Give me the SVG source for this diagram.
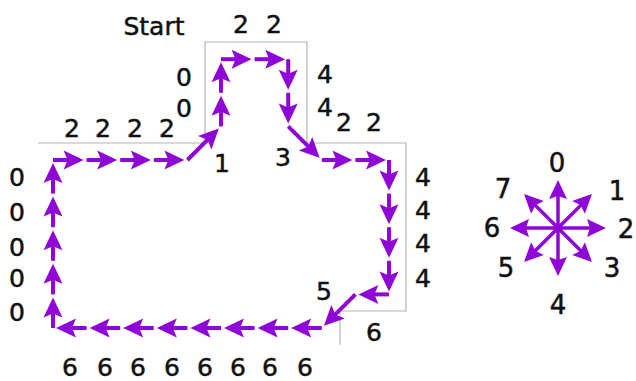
<svg xmlns="http://www.w3.org/2000/svg" width="636" height="381" viewBox="0 0 636 381">
<style>
.outline{fill:none;stroke:#b4b4b4;stroke-width:1.2}
.seg{stroke:#8e05d6;stroke-width:4;fill:none;marker-end:url(#ah)}
.cmp{stroke:#8e05d6;stroke-width:3.5;fill:none;marker-end:url(#ah2)}
text{font-family:"DejaVu Sans","Liberation Sans",sans-serif;font-size:25px;fill:#111;stroke:#111;stroke-width:0.5;text-anchor:middle}
.big{font-size:26px}
</style>
<defs>
<marker id="ah" markerUnits="userSpaceOnUse" markerWidth="22" markerHeight="20" refX="12" refY="9.5" orient="auto" overflow="visible">
<path d="M0,0 L20,9.5 L0,19 L4,9.5 Z" fill="#8e05d6"/>
</marker>
<marker id="ah2" markerUnits="userSpaceOnUse" markerWidth="22" markerHeight="20" refX="11" refY="9" orient="auto" overflow="visible">
<path d="M0,0 L19,9 L0,18 L3,9 Z" fill="#8e05d6"/>
</marker>
</defs>
<rect width="636" height="381" fill="#fff"/>
<g id="outline">
<polyline class="outline" points="38,143 205,143 205,42 307,42 307,143 406,143 406,311 340,311 340,345"/>
</g>
<g id="connectors">
<line class="seg" x1="53" y1="328" x2="53" y2="305.4"/>
<line class="seg" x1="53" y1="294.4" x2="53" y2="271.8"/>
<line class="seg" x1="53" y1="260.8" x2="53" y2="238.2"/>
<line class="seg" x1="53" y1="227.2" x2="53" y2="204.6"/>
<line class="seg" x1="53" y1="193.6" x2="53" y2="171"/>
<line class="seg" x1="53" y1="160" x2="75.6" y2="160"/>
<line class="seg" x1="86.6" y1="160" x2="109.2" y2="160"/>
<line class="seg" x1="120.2" y1="160" x2="142.8" y2="160"/>
<line class="seg" x1="153.8" y1="160" x2="176.4" y2="160"/>
<line class="seg" x1="187.4" y1="160" x2="213.2" y2="134.2"/>
<line class="seg" x1="221" y1="126.4" x2="221" y2="103.8"/>
<line class="seg" x1="221" y1="92.8" x2="221" y2="70.2"/>
<line class="seg" x1="221" y1="59.2" x2="243.6" y2="59.2"/>
<line class="seg" x1="254.6" y1="59.2" x2="277.2" y2="59.2"/>
<line class="seg" x1="288.2" y1="59.2" x2="288.2" y2="81.8"/>
<line class="seg" x1="288.2" y1="92.8" x2="288.2" y2="115.4"/>
<line class="seg" x1="288.2" y1="126.4" x2="314" y2="152.2"/>
<line class="seg" x1="321.8" y1="160" x2="344.4" y2="160"/>
<line class="seg" x1="355.4" y1="160" x2="378" y2="160"/>
<line class="seg" x1="389" y1="160" x2="389" y2="182.6"/>
<line class="seg" x1="389" y1="193.6" x2="389" y2="216.2"/>
<line class="seg" x1="389" y1="227.2" x2="389" y2="249.8"/>
<line class="seg" x1="389" y1="260.8" x2="389" y2="283.4"/>
<line class="seg" x1="389" y1="294.4" x2="366.4" y2="294.4"/>
<line class="seg" x1="355.4" y1="294.4" x2="329.6" y2="320.2"/>
<line class="seg" x1="321.8" y1="328" x2="299.2" y2="328"/>
<line class="seg" x1="288.2" y1="328" x2="265.6" y2="328"/>
<line class="seg" x1="254.6" y1="328" x2="232" y2="328"/>
<line class="seg" x1="221" y1="328" x2="198.4" y2="328"/>
<line class="seg" x1="187.4" y1="328" x2="164.8" y2="328"/>
<line class="seg" x1="153.8" y1="328" x2="131.2" y2="328"/>
<line class="seg" x1="120.2" y1="328" x2="97.6" y2="328"/>
<line class="seg" x1="86.6" y1="328" x2="64" y2="328"/>
</g>
<g id="labels">
<text x="154" y="35">Start</text>
<text x="241" y="33">2</text><text x="274" y="33">2</text>
<text x="184" y="86">0</text><text x="184" y="117">0</text>
<text x="72" y="137">2</text><text x="103" y="137">2</text><text x="135" y="137">2</text><text x="167" y="137">2</text>
<text x="222" y="172">1</text>
<text x="283" y="166">3</text>
<text x="325" y="83">4</text><text x="325" y="116">4</text>
<text x="344" y="131">2</text><text x="374" y="131">2</text>
<text x="423" y="186">4</text><text x="423" y="219">4</text><text x="423" y="252">4</text><text x="423" y="287">4</text>
<text x="324" y="300">5</text>
<text x="374" y="341">6</text>
<text x="70" y="376">6</text><text x="105" y="376">6</text><text x="138" y="376">6</text><text x="172" y="376">6</text><text x="205" y="376">6</text><text x="238" y="376">6</text><text x="270" y="376">6</text><text x="305" y="376">6</text>
<text x="17" y="186">0</text><text x="17" y="221">0</text><text x="17" y="256">0</text><text x="17" y="287">0</text><text x="17" y="321">0</text>
</g>
<g id="compass">
<line class="cmp" x1="558" y1="228" x2="558" y2="188"/>
<line class="cmp" x1="558" y1="228" x2="586.3" y2="199.7"/>
<line class="cmp" x1="558" y1="228" x2="598" y2="228"/>
<line class="cmp" x1="558" y1="228" x2="586.3" y2="256.3"/>
<line class="cmp" x1="558" y1="228" x2="558" y2="268"/>
<line class="cmp" x1="558" y1="228" x2="529.7" y2="256.3"/>
<line class="cmp" x1="558" y1="228" x2="518" y2="228"/>
<line class="cmp" x1="558" y1="228" x2="529.7" y2="199.7"/>
<text class="big" x="557" y="172">0</text>
<text class="big" x="617" y="200">1</text>
<text class="big" x="626" y="238">2</text>
<text class="big" x="612" y="277">3</text>
<text class="big" x="558" y="314">4</text>
<text class="big" x="506" y="277">5</text>
<text class="big" x="492" y="237">6</text>
<text class="big" x="503" y="198">7</text>
</g>
</svg>
